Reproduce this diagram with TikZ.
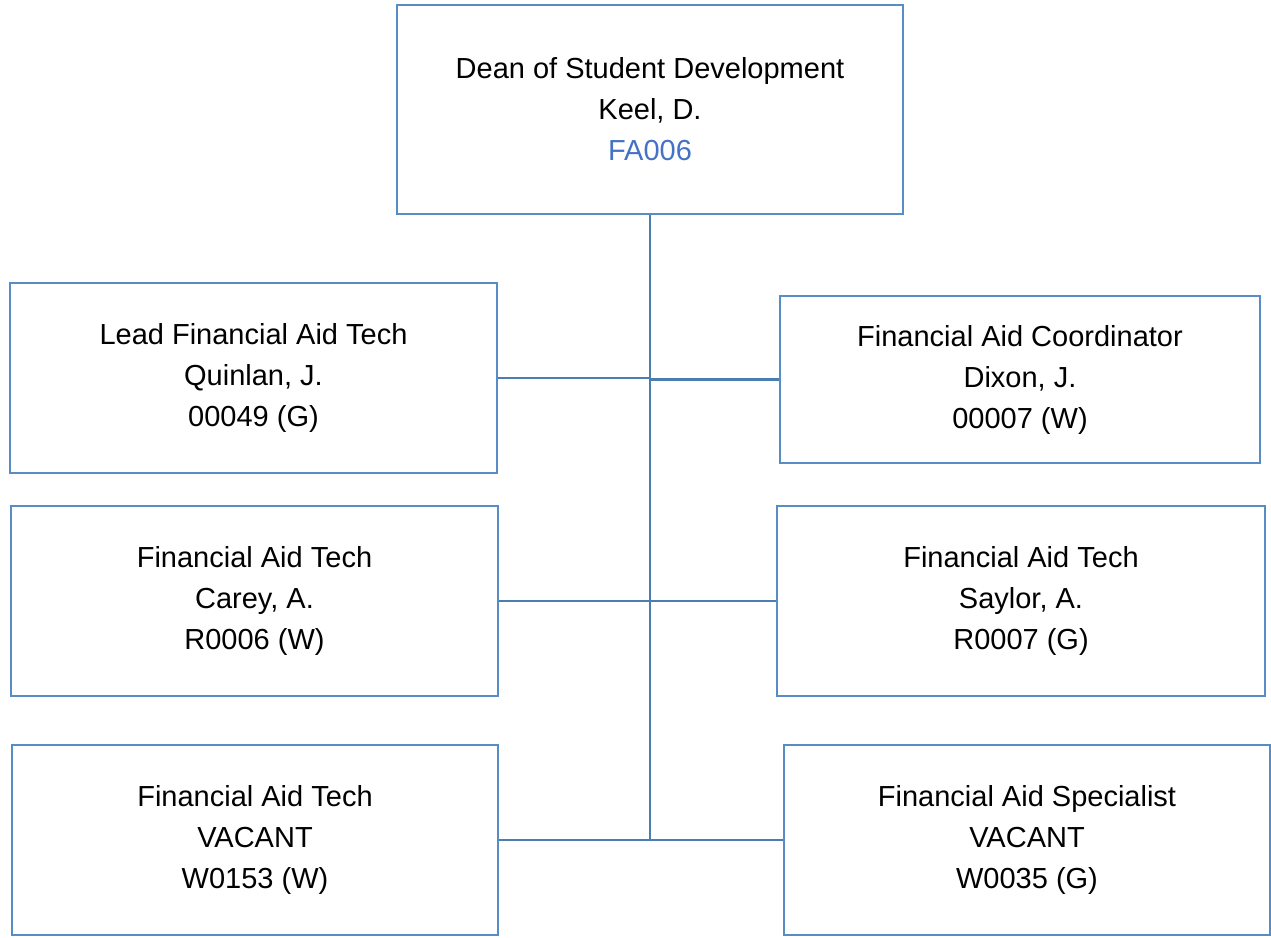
\documentclass[tikz,border=0pt]{standalone}
\usepackage{fontspec}
\setmainfont{Liberation Sans}
\usepackage{xcolor}
\usepackage{tikz}
\usetikzlibrary{positioning}
\definecolor{boxblue}{RGB}{88,140,196}
\definecolor{linkblue}{RGB}{74,126,176}
\definecolor{codeblue}{RGB}{68,114,196}

\begin{document}
\begin{tikzpicture}[
    x=1pt, y=-1pt,
    box/.style={rectangle, draw=boxblue, line width=2.2pt, inner sep=0pt, align=center,
        font=\fontsize{29}{41}\selectfont},
    link/.style={draw=linkblue, line width=2.2pt},
]
\useasboundingbox (0,0) rectangle (1271,937);

% Dean
\node[box, minimum width=506pt, minimum height=209pt] (dean) at (650,109.5)
    {Dean of Student Development\\Keel, D.\\\textcolor{codeblue}{FA006}};

% Left column
\node[box, minimum width=487pt, minimum height=190pt] (leadtech) at (253.5,378)
    {Lead Financial Aid Tech\\Quinlan, J.\\00049 (G)};
\node[box, minimum width=487pt, minimum height=190pt] (careytech) at (254.5,601)
    {Financial Aid Tech\\Carey, A.\\R0006 (W)};
\node[box, minimum width=486pt, minimum height=190pt] (vacanttech) at (255,840)
    {Financial Aid Tech\\VACANT\\W0153 (W)};

% Right column
\node[box, minimum width=480pt, minimum height=167pt] (coord) at (1020,379.5)
    {Financial Aid Coordinator\\Dixon, J.\\00007 (W)};
\node[box, minimum width=488pt, minimum height=190pt] (saylortech) at (1021,601)
    {Financial Aid Tech\\Saylor, A.\\R0007 (G)};
\node[box, minimum width=486pt, minimum height=190pt] (specialist) at (1027,840)
    {Financial Aid Specialist\\VACANT\\W0035 (G)};

% Connectors
\draw[link] (dean.south) |- (vacanttech.east);
\draw[link] (dean.south) |- (specialist.west);
\draw[link] (leadtech.east) -- (leadtech.east -| dean.south);
\draw[link] (coord.west) -- (coord.west -| dean.south);
\draw[link] (careytech.east) -- (careytech.east -| dean.south);
\draw[link] (saylortech.west) -- (saylortech.west -| dean.south);

\end{tikzpicture}
\end{document}
